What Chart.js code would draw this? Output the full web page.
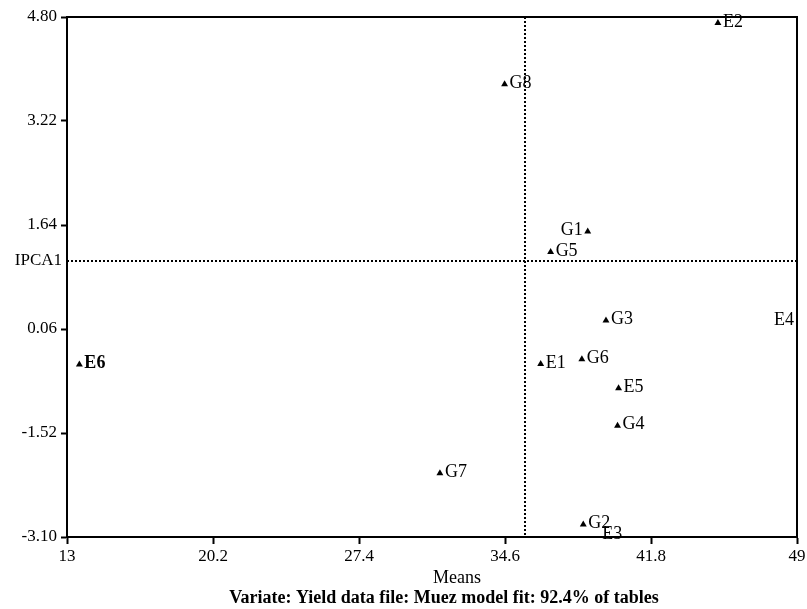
<!DOCTYPE html>
<html>
<head>
<meta charset="utf-8">
<script src="https://cdn.jsdelivr.net/npm/chart.js@4.4.1/dist/chart.umd.min.js"></script>
<style>
  html, body { margin: 0; padding: 0; background: #fff; }
  #wrap { width: 807px; height: 609px; }
</style>
</head>
<body>
<div id="wrap"><canvas id="biplot" width="807" height="609"></canvas></div>
<script>
// environments and genotypes: means vs IPCA1 scores
const envNames = ['E1', 'E2', 'E3', 'E4', 'E5', 'E6'];
const envMeans = [36.36, 45.10, 39.15, 47.62, 40.20, 13.61];
const envIpca  = [-0.47, 4.71, -3.07, 0.17, -0.84, -0.48];

const genNames = ['G1', 'G2', 'G3', 'G4', 'G5', 'G6', 'G7', 'G8'];
const genMeans = [38.68, 38.46, 39.58, 40.15, 36.85, 38.39, 31.39, 34.58];
const genIpca  = [1.54, -2.91, 0.19, -1.41, 1.23, -0.40, -2.13, 3.78];

const grandMean = 35.58;
const ipcaRef = 1.09;

const xTicks = [13, 20.2, 27.4, 34.6, 41.8, 49];
const yTicks = [-3.10, -1.52, 0.06, 1.64, 3.22, 4.80];

const noMarker = ['E3', 'E4'];
const boldLabel = ['E6'];
const leftLabel = ['G1'];

const serif = "'Liberation Serif', 'Times New Roman', serif";

const toPoints = (names, xs, ys) => names.map((n, i) => ({ x: xs[i], y: ys[i], name: n }));

const overlay = {
  id: 'overlay',
  beforeDatasetsDraw(chart) {
    const { ctx, chartArea: a, scales: { x, y } } = chart;
    const vx = Math.round(x.getPixelForValue(grandMean));
    const hy = Math.round(y.getPixelForValue(ipcaRef));
    ctx.save();
    ctx.strokeStyle = '#000';
    ctx.lineWidth = 2;
    ctx.setLineDash([2, 2]);
    ctx.beginPath();
    ctx.moveTo(vx, a.top);
    ctx.lineTo(vx, a.bottom);
    ctx.moveTo(a.left, hy);
    ctx.lineTo(a.right, hy);
    ctx.stroke();
    ctx.setLineDash([]);
    // frame top and right
    ctx.beginPath();
    ctx.moveTo(a.left, a.top);
    ctx.lineTo(a.right, a.top);
    ctx.lineTo(a.right, a.bottom);
    ctx.stroke();
    ctx.fillStyle = '#000';
    ctx.font = '17px ' + serif;
    ctx.textAlign = 'right';
    ctx.textBaseline = 'middle';
    ctx.fillText('IPCA1', a.left - 5, hy);
    ctx.restore();
  },
  afterDatasetsDraw(chart) {
    const { ctx } = chart;
    ctx.save();
    ctx.fillStyle = '#000';
    ctx.textBaseline = 'middle';
    chart.data.datasets.forEach((ds, di) => {
      chart.getDatasetMeta(di).data.forEach((el, i) => {
        const name = ds.data[i].name;
        ctx.font = (boldLabel.includes(name) ? 'bold ' : '') + '18px ' + serif;
        if (leftLabel.includes(name)) {
          ctx.textAlign = 'right';
          ctx.fillText(name, el.x - 5, el.y - 1);
        } else {
          ctx.textAlign = 'left';
          ctx.fillText(name, el.x + 5, el.y - 1);
        }
      });
    });
    // axis title and caption
    ctx.textAlign = 'center';
    ctx.font = '18px ' + serif;
    ctx.fillText('Means', 457, 578);
    ctx.font = 'bold 18px ' + serif;
    ctx.fillText('Variate: Yield data file: Muez model fit: 92.4% of tables', 444, 598);
    ctx.restore();
  }
};

const pointRadius = c => (c.raw && noMarker.includes(c.raw.name)) ? 0 : 4;

new Chart(document.getElementById('biplot'), {
  type: 'scatter',
  data: {
    datasets: [
      {
        label: 'Environments',
        data: toPoints(envNames, envMeans, envIpca),
        pointStyle: 'triangle',
        pointRadius: pointRadius,
        backgroundColor: '#000',
        borderColor: '#000',
        borderWidth: 0,
        clip: false
      },
      {
        label: 'Genotypes',
        data: toPoints(genNames, genMeans, genIpca),
        pointStyle: 'triangle',
        pointRadius: pointRadius,
        backgroundColor: '#000',
        borderColor: '#000',
        borderWidth: 0,
        clip: false
      }
    ]
  },
  options: {
    responsive: false,
    animation: false,
    devicePixelRatio: 1,
    layout: { padding: { top: 17, right: 10, left: 0, bottom: 0 } },
    plugins: {
      legend: { display: false },
      tooltip: { enabled: false }
    },
    scales: {
      x: {
        type: 'linear',
        min: xTicks[0],
        max: xTicks[xTicks.length - 1],
        afterBuildTicks: s => { s.ticks = xTicks.map(v => ({ value: v })); },
        afterFit: s => { s.height = 72; s.paddingLeft = 0; s.paddingRight = 0; },
        border: { display: true, color: '#000', width: 2 },
        grid: { drawOnChartArea: false, drawTicks: true, tickLength: 7, tickWidth: 2, tickColor: '#000' },
        ticks: {
          color: '#000',
          padding: 2,
          maxRotation: 0,
          autoSkip: false,
          font: { family: serif, size: 17 },
          callback: v => String(v)
        }
      },
      y: {
        type: 'linear',
        min: yTicks[0],
        max: yTicks[yTicks.length - 1],
        afterBuildTicks: s => { s.ticks = yTicks.map(v => ({ value: v })); },
        afterFit: s => { s.width = 67; s.paddingTop = 0; s.paddingBottom = 0; },
        border: { display: true, color: '#000', width: 2 },
        grid: { drawOnChartArea: false, drawTicks: true, tickLength: 6, tickWidth: 2, tickColor: '#000' },
        ticks: {
          color: '#000',
          padding: 4,
          autoSkip: false,
          font: { family: serif, size: 17 },
          callback: v => Number(v).toFixed(2)
        }
      }
    }
  },
  plugins: [overlay]
});
</script>
</body>
</html>
